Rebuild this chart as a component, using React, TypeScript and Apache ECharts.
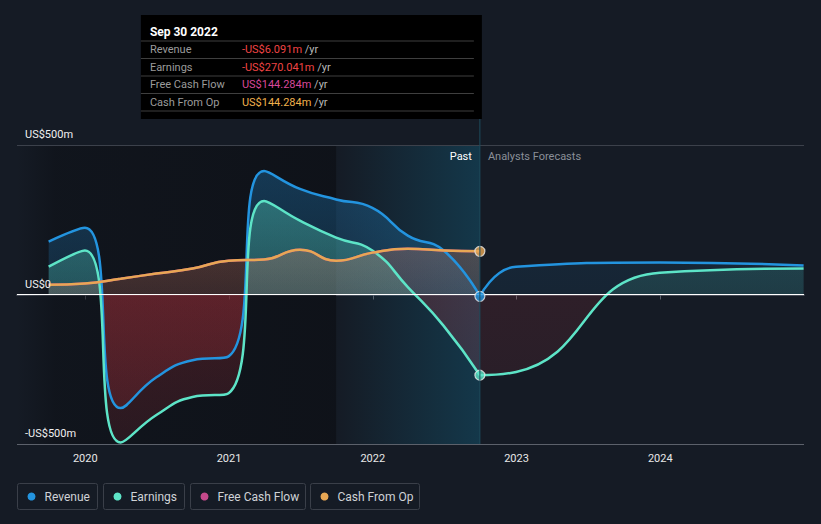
import React, { useEffect, useRef } from 'react';
import * as echarts from 'echarts';

// ---- data (US$ millions) ----
const pastDates = [
  '2019-09-30', '2019-12-31', '2020-03-31', '2020-06-30', '2020-09-30', '2020-12-31',
  '2021-03-31', '2021-06-30', '2021-09-30', '2021-12-31', '2022-03-31', '2022-06-30', '2022-09-30',
];
const revenuePast = [177, 223, -380, -277, -220, -207, 413, 353, 318, 290, 197, 147, -6.091];
const earningsPast = [93, 147, -495, -403, -343, -330, 313, 247, 190, 147, 25, -105, -270.041];
const fcfPast = [33, 37, 53, 70, 87, 113, 117, 150, 113, 140, 153, 147, 144.284];
const cfoPast = [33, 37, 53, 70, 87, 113, 117, 150, 113, 140, 153, 147, 144.284];

const forecastDates = ['2022-09-30', '2022-12-31', '2023-12-31', '2024-12-31'];
const revenueForecast = [-6.091, 93, 107, 97];
const earningsForecast = [-270.041, -259, 73, 87];

const yearTicks = [2020, 2021, 2022, 2023, 2024];
const yTicks = [-500, 0, 500];
const bandStartDate = '2021-09-30';
const tooltipTitle = 'Sep 30 2022';

const seriesNames = ['Revenue', 'Earnings', 'Free Cash Flow', 'Cash From Op'];
const seriesColors = ['#2394df', '#5de4c7', '#c4498b', '#e8a754'];
const valueColors = ['#ef4444', '#ef4444', '#d9489a', '#f0b04c'];

// ---- helpers ----
function toYear(d: string): number {
  const [y, m, day] = d.split('-').map(Number);
  const start = Date.UTC(y, 0, 1);
  const end = Date.UTC(y + 1, 0, 1);
  return y + (Date.UTC(y, m - 1, day) - start) / (end - start);
}
function pairs(dates: string[], vals: number[]) {
  return dates.map((d, i) => [toYear(d), vals[i]]);
}
function fmtMoney(v: number): string {
  return (v < 0 ? '-' : '') + 'US$' + Math.abs(v).toFixed(3) + 'm';
}
function fmtAxis(v: number): string {
  if (v === 0) return 'US$0';
  return (v < 0 ? '-' : '') + 'US$' + Math.abs(v) + 'm';
}
function rgba(hex: string, a: number) {
  const n = parseInt(hex.slice(1), 16);
  return `rgba(${(n >> 16) & 255},${(n >> 8) & 255},${n & 255},${a})`;
}

const W = 821;
const H = 524;
const GRID = { left: 17, right: 17, top: 145, bottom: 80 };
const plotTop = GRID.top;
const plotBottom = H - GRID.bottom;
const RED = '#e63c46';

function areaGrad(color: string, aTop: number, aZero: number, rTop: number, rBottom: number) {
  return new echarts.graphic.LinearGradient(0, plotTop, 0, plotBottom, [
    { offset: 0, color: rgba(color, aTop) },
    { offset: 0.5, color: rgba(color, aZero) },
    { offset: 0.5, color: rgba(RED, rTop) },
    { offset: 1, color: rgba(RED, rBottom) },
  ], true);
}

function lineSeries(name: string, data: number[][], color: string, area: any, z = 2) {
  return {
    name,
    type: 'line',
    data,
    smooth: 0.5,
    showSymbol: false,
    symbol: 'none',
    z,
    lineStyle: { color, width: 2.5 },
    itemStyle: { color },
    areaStyle: { color: area, opacity: 1 },
    emphasis: { disabled: true },
  };
}

export default function App() {
  const ref = useRef<HTMLDivElement>(null);

  useEffect(() => {
    document.body.style.margin = '0';
    const chart = echarts.init(ref.current!, null, { renderer: 'svg', width: W, height: H });

    const xMin = 2019.525;
    const xMax = 2025.0;
    const bandStart = toYear(bandStartDate);
    const now = toYear(pastDates[pastDates.length - 1]);
    const last = pastDates.length - 1;

    const option: any = {
      animation: false,
      backgroundColor: '#151b25',
      textStyle: { fontFamily: 'Roboto, sans-serif' },
      grid: GRID,
      legend: { show: false, data: seriesNames },
      xAxis: {
        type: 'value',
        min: xMin,
        max: xMax,
        axisLine: { show: true, lineStyle: { color: '#5c616b', width: 1.5 } },
        axisTick: { show: true, customValues: yearTicks, length: 5, lineStyle: { color: '#5c616b' } },
        splitLine: { show: false },
        axisLabel: {
          customValues: yearTicks,
          formatter: (v: number) => String(Math.round(v)),
          color: '#e8e8e8',
          fontSize: 11,
          margin: 9,
        },
      },
      yAxis: {
        type: 'value',
        min: yTicks[0],
        max: yTicks[yTicks.length - 1],
        interval: 500,
        axisLine: { show: false },
        axisTick: { show: false },
        axisLabel: {
          inside: true,
          margin: 8,
          verticalAlign: 'bottom',
          padding: [0, 0, 5, 0],
          color: '#f0f0f0',
          fontSize: 11,
          formatter: (v: number) => fmtAxis(v),
        },
        splitLine: { show: true, lineStyle: { color: ['#5c616b', '#ffffff', '#3c414b'], width: 1 } },
        z: 3,
      },
      series: [
        {
          name: 'pastShade',
          type: 'line',
          data: [[xMin, null]],
          symbol: 'none',
          z: 0,
          silent: true,
          markArea: {
            silent: true,
            itemStyle: {
              color: new echarts.graphic.LinearGradient(0, 0, 1, 0, [
                { offset: 0, color: 'rgba(11,13,18,0.0)' },
                { offset: 0.12, color: 'rgba(11,13,18,0.45)' },
                { offset: 1, color: 'rgba(11,13,18,0.62)' },
              ]),
            },
            data: [[{ xAxis: xMin, yAxis: yTicks[0] }, { xAxis: bandStart, yAxis: yTicks[yTicks.length - 1] }]],
          },
        },
        lineSeries(seriesNames[0], pairs(pastDates, revenuePast), seriesColors[0], areaGrad(seriesColors[0], 0.32, 0.16, 0.2, 0.12)),
        lineSeries(seriesNames[1], pairs(pastDates, earningsPast), seriesColors[1], areaGrad(seriesColors[1], 0.4, 0.22, 0.2, 0.12)),
        lineSeries(seriesNames[2], pairs(pastDates, fcfPast), seriesColors[2], areaGrad(seriesColors[2], 0.22, 0.1, 0.1, 0.05)),
        lineSeries(seriesNames[3], pairs(pastDates, cfoPast), seriesColors[3], areaGrad(seriesColors[3], 0.3, 0.12, 0.1, 0.05)),
        lineSeries(seriesNames[0] + ' forecast', pairs(forecastDates, revenueForecast), seriesColors[0], areaGrad(seriesColors[0], 0.14, 0.08, 0.12, 0.08)),
        lineSeries(seriesNames[1] + ' forecast', pairs(forecastDates, earningsForecast), seriesColors[1], areaGrad(seriesColors[1], 0.22, 0.12, 0.12, 0.08)),
        {
          name: 'band',
          type: 'line',
          data: [[bandStart, null]],
          symbol: 'none',
          z: 5,
          silent: true,
          markArea: {
            silent: true,
            itemStyle: {
              color: new echarts.graphic.LinearGradient(0, 0, 1, 0, [
                { offset: 0, color: 'rgba(18,95,125,0.0)' },
                { offset: 1, color: 'rgba(18,95,125,0.42)' },
              ]),
            },
            data: [[{ xAxis: bandStart, yAxis: yTicks[0] }, { xAxis: now, yAxis: yTicks[yTicks.length - 1] }]],
          },
        },
        {
          name: 'now',
          type: 'scatter',
          z: 6,
          symbolSize: 10,
          silent: true,
          data: [
            { value: [now, cfoPast[last]], itemStyle: { color: seriesColors[3] } },
            { value: [now, revenuePast[last]], itemStyle: { color: seriesColors[0] } },
            { value: [now, earningsPast[last]], itemStyle: { color: seriesColors[1] } },
          ],
          itemStyle: { borderColor: '#e8e8e8', borderWidth: 1.2 },
        },
      ],
    };
    chart.setOption(option);

    const xNow = chart.convertToPixel({ xAxisIndex: 0 }, now) as number;
    const yTop = chart.convertToPixel({ yAxisIndex: 0 }, yTicks[yTicks.length - 1]) as number;
    const yBot = chart.convertToPixel({ yAxisIndex: 0 }, yTicks[0]) as number;

    const tipW = 341;
    const tipX = xNow + 2 - tipW;
    const tipY = 15;
    const tipH = 104;
    const rowVals = [revenuePast[last], earningsPast[last], fcfPast[last], cfoPast[last]];
    const graphics: any[] = [
      { type: 'line', z: 50, shape: { x1: xNow, y1: tipY + tipH, x2: xNow, y2: yBot }, style: { stroke: '#1d4c5c', lineWidth: 1 } },
      { type: 'rect', z: 60, shape: { x: tipX, y: tipY, width: tipW, height: tipH }, style: { fill: '#000000' } },
      { type: 'text', z: 61, x: tipX + 9, y: 32, style: { text: tooltipTitle, fill: '#ffffff', font: 'bold 12px Roboto, sans-serif', verticalAlign: 'middle' } },
      { type: 'text', z: 61, x: xNow - 8, y: yTop + 11, style: { text: 'Past', fill: '#ffffff', font: '11px Roboto, sans-serif', align: 'right', verticalAlign: 'middle' } },
      { type: 'text', z: 61, x: xNow + 8, y: yTop + 11, style: { text: 'Analysts Forecasts', fill: '#8a8f98', font: '11px Roboto, sans-serif', align: 'left', verticalAlign: 'middle' } },
    ];
    const lineYs = [41, 58.5, 76, 93.5, 111];
    lineYs.forEach((ly) => {
      graphics.push({ type: 'line', z: 61, shape: { x1: tipX, y1: ly, x2: tipX + 333, y2: ly }, style: { stroke: '#3f3f3f', lineWidth: 1 } });
    });
    seriesNames.forEach((n, i) => {
      const cy = (lineYs[i] + lineYs[i + 1]) / 2;
      graphics.push({ type: 'text', z: 61, x: tipX + 9, y: cy, style: { text: n, fill: '#9b9b9b', font: '11px Roboto, sans-serif', verticalAlign: 'middle' } });
      graphics.push({
        type: 'text', z: 61, x: tipX + 101, y: cy,
        style: {
          text: `{v|${fmtMoney(rowVals[i])}} {u|/yr}`,
          verticalAlign: 'middle',
          font: '11px Roboto, sans-serif',
          rich: {
            v: { fill: valueColors[i], font: '11px Roboto, sans-serif' },
            u: { fill: '#b8b8b8', font: '11px Roboto, sans-serif' },
          },
        },
      });
    });

    // legend boxes
    const legendBoxes = [
      [17, 80],
      [103, 81],
      [190, 115],
      [310, 109],
    ];
    seriesNames.forEach((n, i) => {
      const [bx, bw] = legendBoxes[i];
      graphics.push({ type: 'rect', z: 61, shape: { x: bx + 0.5, y: 483.5, width: bw, height: 26, r: 2 }, style: { fill: 'transparent', stroke: '#3a3f49', lineWidth: 1 } });
      graphics.push({ type: 'circle', z: 62, shape: { cx: bx + 14.5, cy: 496.5, r: 4 }, style: { fill: seriesColors[i] } });
      graphics.push({ type: 'text', z: 62, x: bx + 27.5, y: 496.5, style: { text: n, fill: '#cfd2d6', font: '12px Roboto, sans-serif', verticalAlign: 'middle' } });
    });

    chart.setOption({ graphic: graphics });

    return () => chart.dispose();
  }, []);

  return (
    <div
      ref={ref}
      style={{ position: 'fixed', left: 0, top: 0, width: W, height: H, background: '#151b25' }}
    />
  );
}
